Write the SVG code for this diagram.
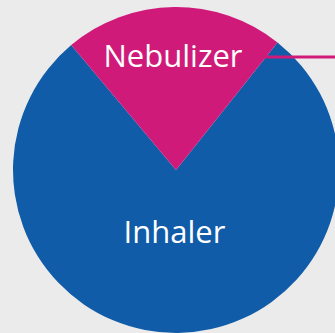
<svg xmlns="http://www.w3.org/2000/svg" width="335" height="333" viewBox="0 0 335 333">
<style>
.lbl{font-family:"Open Sans","Liberation Sans",sans-serif;font-size:31px;fill:#ffffff;text-anchor:middle}
</style>
<rect width="335" height="333" fill="#ebebeb"/>
<g id="inhaler">
<path d="M176,170 L277.5,42.4 A163,163 0 1 1 71.2,45.1 Z" fill="#105ca8"/>
<text class="lbl" x="174.5" y="243">Inhaler</text>
</g>
<g id="nebulizer">
<path d="M176,170 L71.2,45.1 A163,163 0 0 1 277.5,42.4 Z" fill="#d01a7a"/>
<text class="lbl" x="173" y="67">Nebulizer</text>
</g>
<g id="connectors">
<line x1="262" y1="57" x2="335" y2="57" stroke="#d01a7a" stroke-width="3" stroke-linecap="round"/>
</g>
</svg>
